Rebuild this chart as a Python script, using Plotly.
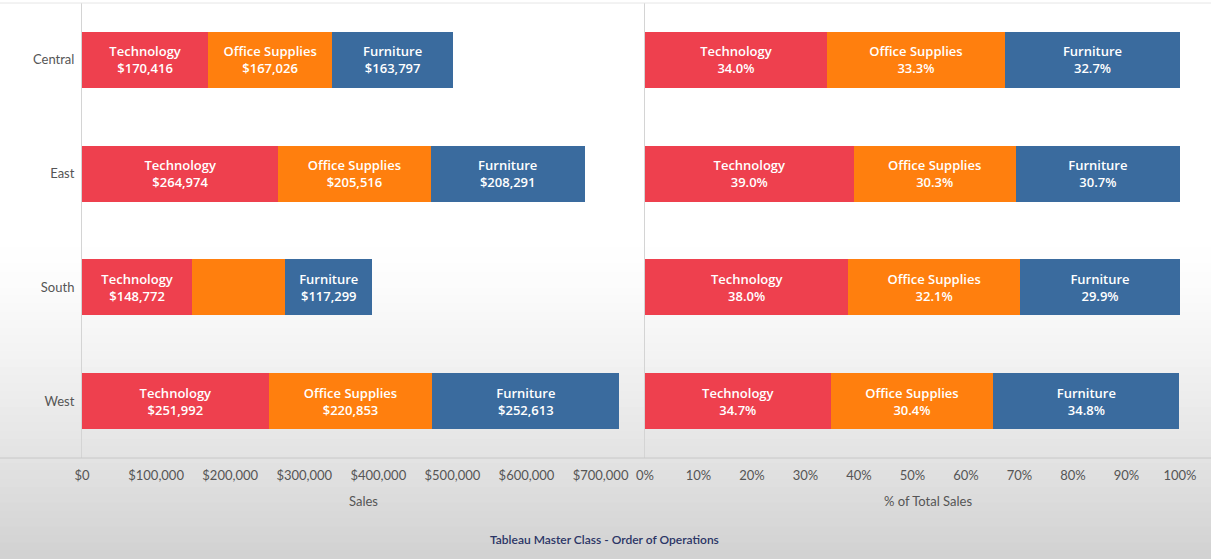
import plotly.graph_objects as go

regions = ["Central", "East", "South", "West"]
categories = ["Technology", "Office Supplies", "Furniture"]
sales_technology = [170416, 264974, 148772, 251992]
sales_office = [167026, 205516, 125651, 220853]
sales_furniture = [163797, 208291, 117299, 252613]
pct_technology = [34.0, 39.0, 38.0, 34.7]
pct_office = [33.3, 30.3, 32.1, 30.4]
pct_furniture = [32.7, 30.7, 29.9, 34.8]
sales_ticks = [0, 100000, 200000, 300000, 400000, 500000, 600000, 700000]
sales_tick_labels = ["$0", "$100,000", "$200,000", "$300,000", "$400,000", "$500,000", "$600,000", "$700,000"]
pct_ticks = [0, 10, 20, 30, 40, 50, 60, 70, 80, 90, 100]
pct_tick_labels = ["0%", "10%", "20%", "30%", "40%", "50%", "60%", "70%", "80%", "90%", "100%"]
caption = "Tableau Master Class - Order of Operations"

colors = {"Technology": "#EE404E", "Office Supplies": "#FF7F0E", "Furniture": "#3A6B9E"}
FONT = "Lato"
LABEL_FONT = "Open Sans"
W, H = 1211, 559

sales = {"Technology": sales_technology, "Office Supplies": sales_office, "Furniture": sales_furniture}
pcts = {"Technology": pct_technology, "Office Supplies": pct_office, "Furniture": pct_furniture}

label_font = dict(color="white", size=13, family=LABEL_FONT, weight=600)

fig = go.Figure()
for c in categories:
    fig.add_trace(go.Bar(
        y=regions, x=sales[c], orientation="h", name=c,
        marker=dict(color=colors[c], line=dict(width=0)),
        customdata=[c] * len(regions),
        texttemplate="%{customdata}<br>%{x:$,.0f}",
        textposition="inside", insidetextanchor="middle", textangle=0,
        textfont=label_font,
        xaxis="x", yaxis="y", showlegend=False, hoverinfo="skip",
    ))
for c in categories:
    fig.add_trace(go.Bar(
        y=regions, x=pcts[c], orientation="h", name=c,
        marker=dict(color=colors[c], line=dict(width=0)),
        customdata=[c] * len(regions),
        texttemplate="%{customdata}<br>%{x:.1f}%",
        textposition="inside", insidetextanchor="middle", textangle=0,
        textfont=label_font,
        xaxis="x2", yaxis="y2", showlegend=False, hoverinfo="skip",
    ))

x_left0 = 82 / W
x_split = 645 / W
y_bot = (H - 458) / H
y_top = (H - 3) / H

# background gradient (decoration)
shapes = []
steps = 40
start = 240
for i in range(steps):
    p0 = start + (H - start) * i / steps
    p1 = start + (H - start) * (i + 1) / steps
    t = (i + 0.5) / steps
    v = int(round(255 - 46 * t ** 1.3))
    shapes.append(dict(type="rect", xref="paper", yref="paper",
                       x0=0, x1=1, y0=(H - p1) / H, y1=(H - p0) / H + 0.001,
                       fillcolor=f"rgb({v},{v},{v})", line=dict(width=0), layer="below"))
line_col = "#d4d4d4"
shapes.append(dict(type="line", xref="paper", yref="paper", x0=0, x1=1, y0=y_bot, y1=y_bot,
                   line=dict(color="#c8c8c8", width=1), layer="above"))
shapes.append(dict(type="line", xref="paper", yref="paper", x0=0, x1=1, y0=y_top, y1=y_top,
                   line=dict(color="#e6e6e6", width=1), layer="above"))

tickfont = dict(size=13, color="#555555", family=FONT)
fig.update_layout(
    width=W, height=H,
    margin=dict(l=0, r=0, t=0, b=0),
    paper_bgcolor="white", plot_bgcolor="rgba(0,0,0,0)",
    barmode="stack", bargap=0.507,
    uniformtext=dict(minsize=13, mode="hide"),
    font=dict(family=FONT, color="#555555"),
    shapes=shapes,
    xaxis=dict(domain=[x_left0, x_split], range=[0, 760000], tickmode="array",
               tickvals=sales_ticks, ticktext=sales_tick_labels,
               showgrid=False, zeroline=False,
               tickfont=tickfont, ticks="", ticklabelstandoff=8, automargin=False,
               title=dict(text="Sales", font=dict(size=13, color="#555555", family=FONT), standoff=14),
               anchor="y", fixedrange=True),
    xaxis2=dict(domain=[x_split, 1], range=[0, 105.8], tickmode="array",
                tickvals=pct_ticks, ticktext=pct_tick_labels,
                showgrid=False, zeroline=False, tickfont=tickfont, ticks="", ticklabelstandoff=8,
                automargin=False,
                title=dict(text="% of Total Sales", font=dict(size=13, color="#555555", family=FONT), standoff=14),
                anchor="y2", fixedrange=True),
    yaxis=dict(domain=[y_bot, y_top], categoryorder="array", categoryarray=regions[::-1],
               showgrid=False, zeroline=False, showline=True, linecolor=line_col, linewidth=1,
               tickfont=tickfont, ticks="", ticklabelstandoff=4, automargin=False, anchor="x",
               fixedrange=True),
    yaxis2=dict(domain=[y_bot, y_top], categoryorder="array", categoryarray=regions[::-1],
                showgrid=False, zeroline=False, showline=True, linecolor=line_col, linewidth=1,
                showticklabels=False, ticks="", automargin=False, anchor="x2", fixedrange=True),
    annotations=[dict(text=caption, xref="paper", yref="paper", x=0.499, y=(H - 539) / H,
                      xanchor="center", yanchor="middle", showarrow=False,
                      font=dict(size=12, color="#2B3566", family=FONT, weight=600))],
)

fig.write_html("out.html", config={"displayModeBar": False},
               post_script="document.body.style.margin='0';document.body.style.overflow='hidden';")
